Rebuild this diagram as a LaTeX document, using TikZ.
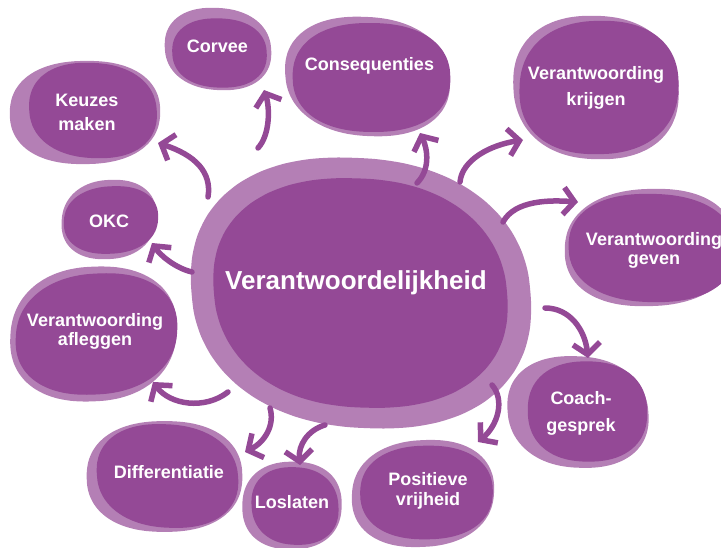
\documentclass[tikz,border=0pt]{standalone}
\usepackage{fontspec}
\setmainfont{Liberation Sans}
\usetikzlibrary{arrows.meta}
\definecolor{dark}{HTML}{944996}
\definecolor{light}{HTML}{B47FB5}
\newcommand\blobpath[5]{plot[domain=3:354,samples=40,smooth cycle] ({#1+#3*(1+0.045*sin(2*\x+#5))*sign(cos(\x))*abs(cos(\x))^0.88},{#2+#4*(1+0.045*sin(2*\x+#5))*sign(sin(\x))*abs(sin(\x))^0.88})}
\tikzset{
 lbl/.style={text=white, font=\bfseries\fontsize{18}{21}\selectfont, align=center, inner sep=0pt},
 big/.style={text=white, font=\bfseries\fontsize{26}{30}\selectfont, inner sep=0pt},
 arr/.style={draw=dark, line width=5.5pt, line cap=round, -{Straight Barb[length=11pt,width=27pt]}},
}
\begin{document}
\begin{tikzpicture}[x=1pt,y=-1pt]
\useasboundingbox (0,0) rectangle (721,548);
% blobs: light back, dark front
\fill[light] \blobpath{218}{49}{52}{42}{30};
\fill[dark] \blobpath{219.5}{53}{45.5}{36}{60};
\fill[light] \blobpath{85}{112.5}{72}{54}{100};
\fill[dark] \blobpath{93}{110.5}{62}{49}{40};
\fill[light] \blobpath{109}{219.5}{48}{39}{200};
\fill[dark] \blobpath{111}{220}{46}{34.5}{150};
\fill[light] \blobpath{367.5}{76.5}{81.5}{60}{10};
\fill[dark] \blobpath{371.5}{77.5}{75.5}{57}{80};
\fill[light] \blobpath{596}{87.5}{86}{69}{300};
\fill[dark] \blobpath{599}{87.5}{83}{64}{250};
\fill[light] \blobpath{650}{247.5}{82}{61}{120};
\fill[dark] \blobpath{652}{248}{80}{56.5}{70};
\fill[light] \blobpath{361}{293}{167}{137}{20};
\fill[dark] \blobpath{360.5}{293}{150}{112}{330};
\fill[light] \blobpath{93.5}{334}{85.5}{65.5}{220};
\fill[dark] \blobpath{96.5}{334}{80.5}{60.5}{180};
\fill[light] \blobpath{164.5}{476.5}{74.5}{58}{90};
\fill[dark] \blobpath{167.5}{476}{69.5}{52.5}{20};
\fill[light] \blobpath{292}{505.5}{52}{42}{260};
\fill[dark] \blobpath{295}{506}{45}{37.5}{310};
\fill[light] \blobpath{423}{493.5}{69}{55}{140};
\fill[dark] \blobpath{426.5}{492.5}{63.5}{49}{100};
\fill[light] \blobpath{578}{412}{72}{54.5}{330};
\fill[dark] \blobpath{587.5}{411.5}{62.5}{48}{280};
% labels
\node[big] (center) at (356,283) {Verantwoordelijkheid};
\node[lbl] (corvee) at (217.5,46) {Corvee};
\node[lbl] (keuzes) at (87,112) {Keuzes\\[3pt]maken};
\node[lbl] (okc) at (109,221) {OKC};
\node[lbl] (conseq) at (369.5,66) {Consequenties};
\node[lbl] (krijgen) at (596,88) {Verantwoording\\[5pt]krijgen};
\node[lbl] (geven) at (654,250) {Verantwoording\\[-2pt]geven};
\node[lbl] (afleggen) at (95,331) {Verantwoording\\[-2pt]afleggen};
\node[lbl] (diff) at (169,472) {Differentiatie};
\node[lbl] (loslaten) at (292,502) {Loslaten};
\node[lbl] (vrijheid) at (428,491) {Positieve\\[-1pt]vrijheid};
\node[lbl] (coach) at (581,413) {Coach-\\[6pt]gesprek};
% arrow ends
\coordinate (ta) at (208,197); \coordinate (ha) at (158,143);
\coordinate (tb) at (258,148); \coordinate (hb) at (264,90);
\coordinate (tc) at (192,272); \coordinate (hc) at (152,243);
\coordinate (td) at (417,183); \coordinate (hd) at (420,133);
\coordinate (te) at (460,182); \coordinate (he) at (523,140);
\coordinate (tf) at (503,222); \coordinate (hf) at (578,202);
\coordinate (tg) at (545,308); \coordinate (hg) at (588,358);
\coordinate (th) at (492,385); \coordinate (hh) at (478,442);
\coordinate (ti) at (325,425); \coordinate (hi) at (300,465);
\coordinate (tj) at (270,408); \coordinate (hj) at (245,452);
\coordinate (tk) at (228,392); \coordinate (hk) at (153,382);
\draw[arr] (ta) .. controls (212,172) and (195,155) .. (ha);
\draw[arr] (tb) .. controls (270,135) and (270,108) .. (hb);
\draw[arr] (tc) .. controls (175,268) and (160,255) .. (hc);
\draw[arr] (td) .. controls (430,170) and (428,150) .. (hd);
\draw[arr] (te) .. controls (462,160) and (490,145) .. (he);
\draw[arr] (tf) .. controls (515,200) and (550,200) .. (hf);
\draw[arr] (tg) .. controls (570,308) and (585,330) .. (hg);
\draw[arr] (th) .. controls (505,400) and (498,425) .. (hh);
\draw[arr] (ti) .. controls (308,430) and (298,445) .. (hi);
\draw[arr] (tj) .. controls (275,425) and (265,442) .. (hj);
\draw[arr] (tk) .. controls (205,410) and (170,405) .. (hk);
\end{tikzpicture}
\end{document}
